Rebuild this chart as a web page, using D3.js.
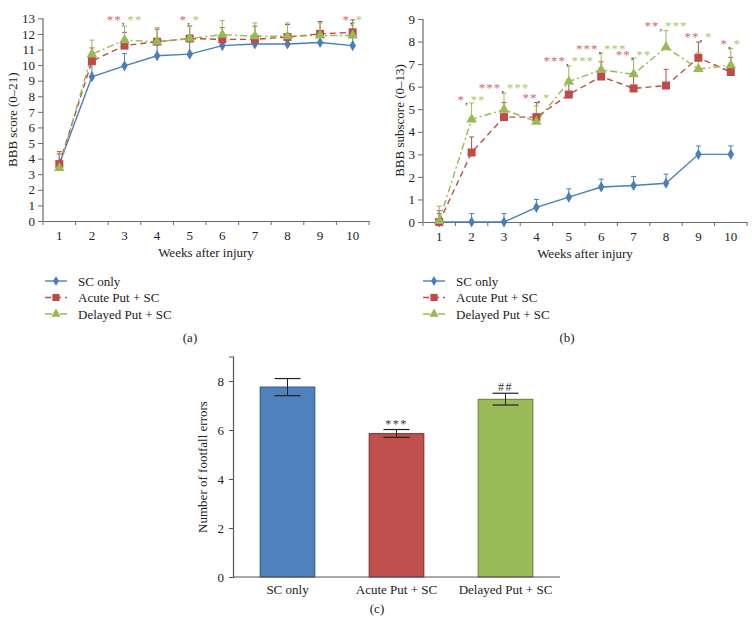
<!DOCTYPE html>
<html><head><meta charset="utf-8">
<script src="https://cdn.jsdelivr.net/npm/d3@7"></script>
<style>
body{margin:0;background:#fff;}
svg text{font-family:"Liberation Serif","Times New Roman",serif;}
</style></head>
<body><svg id="c" width="756" height="631"></svg>
<script>
// ---------- DATA ----------
const weeks = [1,2,3,4,5,6,7,8,9,10];
const seriesNames = ["SC only","Acute Put + SC","Delayed Put + SC"];

// Panel (a) BBB score
const aSC      = [3.65, 9.25, 9.95, 10.6, 10.7, 11.25, 11.35, 11.35, 11.45, 11.25];
const aSCTop   = [4.3, 10.1, 10.75, 11.5, 11.6, 11.9, 12.0, 12.0, 12.1, 11.9];
const aAcute   = [3.65, 10.25, 11.25, 11.5, 11.7, 11.65, 11.65, 11.8, 12.0, 12.1];
const aAcuteTop= [4.45, 11.1, 12.1, 12.3, 12.5, 12.4, 12.5, 12.6, 12.8, 12.9];
const aDelay   = [3.4, 10.7, 11.6, 11.5, 11.7, 11.95, 11.85, 11.85, 11.9, 11.9];
const aDelayTop= [4.3, 11.6, 12.5, 12.4, 12.5, 12.85, 12.7, 12.7, 12.7, 12.7];
const aTicks = [0,1,2,3,4,5,6,7,8,9,10,11,12,13];
const aSigWeek  = [3, 5, 10];
const aSigRed   = ["**", "*", "*"];
const aSigGreen = ["**", "*", "*"];
const aSigY     = [13.05, 13.05, 13.05];

// Panel (b) BBB subscore
const bSC      = [0, 0, 0, 0.65, 1.1, 1.55, 1.62, 1.72, 3.0, 3.0];
const bSCTop   = [0.37, 0.37, 0.37, 1.0, 1.47, 1.9, 2.02, 2.12, 3.37, 3.37];
const bAcute   = [0, 3.08, 4.65, 4.65, 5.65, 6.45, 5.92, 6.05, 7.28, 6.65];
const bAcuteTop= [0.5, 3.77, 5.3, 5.3, 6.3, 7.1, 6.6, 6.77, 7.98, 7.3];
const bDelay   = [0.05, 4.55, 4.98, 4.45, 6.22, 6.75, 6.55, 7.75, 6.78, 6.95];
const bDelayTop= [0.7, 5.28, 5.72, 5.15, 6.92, 7.48, 7.27, 8.48, 7.5, 7.7];
const bTicks = [0,1,2,3,4,5,6,7,8,9];
const bSigWeek  = [2, 3, 4, 5, 6, 7, 8, 9, 10];
const bSigRed   = ["*", "***", "**", "***", "***", "**", "**", "**", "*"];
const bSigGreen = ["**", "***", "*", "***", "***", "**", "***", "*", "*"];
const bSigY     = [5.5, 6.05, 5.6, 7.25, 7.8, 7.5, 8.8, 8.3, 8.0];

// Panel (c) footfall errors
const cCats  = ["SC only","Acute Put + SC","Delayed Put + SC"];
const cMean  = [7.75, 5.85, 7.25];
const cLow   = [7.4, 5.7, 7.02];
const cHigh  = [8.1, 6.02, 7.5];
const cSig   = ["", "***", "##"];
const cSigY  = [0, 6.3, 7.8];
const cTicks = [0,2,4,6,8];

// ---------- STYLE ----------
const lineCol = ["#4a7ebb", "#be4b48", "#98b954"];
const sigRedCol = "#d26a6d", sigGreenCol = "#a9c86b";
const dash = [null, "6,4", "7,3,2,3"];
const axisCol = "#6b6b6b";

const svg = d3.select("#c");

function linePanel(opt){
  const x = d3.scaleBand().domain(weeks).range(opt.xr);
  const y = d3.scaleLinear().domain(opt.yd).range(opt.yr);
  const g = svg.append("g");
  const cx = d => x(d) + x.bandwidth()/2;

  const ya = g.append("g").attr("transform",`translate(${opt.xr[0]},0)`)
    .call(d3.axisLeft(y).tickValues(opt.ticks).tickSize(5).tickPadding(3).tickFormat(d3.format("d")));
  const xa = g.append("g").attr("transform",`translate(0,${opt.yr[0]})`)
    .call(d3.axisBottom(x).tickSize(0).tickPadding(10));
  const bounds = weeks.map(w => x(w)).concat([opt.xr[1]]);
  xa.selectAll("line.bt").data(bounds).enter().append("line").attr("class","bt")
    .attr("x1",d=>d).attr("x2",d=>d).attr("y1",0).attr("y2",4);
  [ya,xa].forEach(a=>{
    a.selectAll("path").attr("stroke",axisCol).attr("stroke-width",1.2);
    a.selectAll("line").attr("stroke",axisCol);
    a.selectAll("text").attr("font-size",13).attr("fill","#222")
      .style("font-family","'Liberation Serif',serif");
  });
  ya.select("path").attr("d",`M0,${opt.yr[0]}V${opt.yr[1]}`);

  g.append("text").attr("x",(opt.xr[0]+opt.xr[1])/2).attr("y",opt.yr[0]+36)
    .attr("text-anchor","middle").attr("font-size",13).attr("fill","#222").text("Weeks after injury");
  g.append("text").attr("transform",`translate(${opt.ylx},${(opt.yr[0]+opt.yr[1])/2}) rotate(-90)`)
    .attr("text-anchor","middle").attr("font-size",13).attr("fill","#222").text(opt.ylabel);

  const data = [opt.sc, opt.acute, opt.delay];
  const tops = [opt.scTop, opt.acuteTop, opt.delayTop];
  [0,1,2].forEach(i=>{
    const eg = g.append("g").attr("stroke",lineCol[i]).attr("stroke-width",1);
    weeks.forEach((w,k)=>{
      eg.append("line").attr("x1",cx(w)).attr("x2",cx(w)).attr("y1",y(data[i][k])).attr("y2",y(tops[i][k]));
      eg.append("line").attr("x1",cx(w)-2.5).attr("x2",cx(w)+2.5).attr("y1",y(tops[i][k])).attr("y2",y(tops[i][k]));
    });
  });
  [0,1,2].forEach(i=>{
    const ln = d3.line().x((d,k)=>cx(weeks[k])).y(d=>y(d));
    g.append("path").datum(data[i]).attr("d",ln).attr("fill","none")
      .attr("stroke",lineCol[i]).attr("stroke-width",1.4)
      .attr("stroke-dasharray",dash[i]);
  });
  const syms = [d3.symbolDiamond, d3.symbolSquare, d3.symbolTriangle];
  const sizes = [36, 64, 48];
  [0,1,2].forEach(i=>{
    g.selectAll(null).data(data[i]).enter().append("path")
      .attr("d", d3.symbol().type(syms[i]).size(sizes[i]))
      .attr("transform",(d,k)=>`translate(${cx(weeks[k])},${y(d)})`)
      .attr("fill",lineCol[i]);
  });
  // significance
  opt.sigWeek.forEach((w,k)=>{
    const t = g.append("text").attr("x",cx(w)).attr("y",y(opt.sigY[k])+6.5)
      .attr("text-anchor","middle").attr("font-size",13).attr("letter-spacing","1px");
    t.append("tspan").attr("fill",sigRedCol).text(opt.sigRed[k]);
    t.append("tspan").attr("fill","#222").attr("font-size",11).attr("letter-spacing","0px").text(", ");
    t.append("tspan").attr("fill",sigGreenCol).text(opt.sigGreen[k]);
  });

  const lg = g.append("g");
  [0,1,2].forEach(i=>{
    const yy = opt.legY + i*16.5;
    lg.append("line").attr("x1",opt.legX).attr("x2",opt.legX+22).attr("y1",yy).attr("y2",yy)
      .attr("stroke",lineCol[i]).attr("stroke-width",1.4).attr("stroke-dasharray",dash[i]);
    lg.append("path").attr("d",d3.symbol().type(syms[i]).size(sizes[i]*0.8))
      .attr("transform",`translate(${opt.legX+11},${yy})`).attr("fill",lineCol[i]);
    lg.append("text").attr("x",opt.legX+33).attr("y",yy+4.5).attr("font-size",13)
      .attr("fill","#222").text(seriesNames[i]);
  });
  g.append("text").attr("x",opt.capX).attr("y",342).attr("text-anchor","middle")
    .attr("font-size",13).attr("fill","#222").text(opt.cap);
}

linePanel({xr:[43,369], yr:[221,18.3], yd:[0,13], ticks:aTicks, ylabel:"BBB score (0–21)", ylx:17,
  sc:aSC, scTop:aSCTop, acute:aAcute, acuteTop:aAcuteTop, delay:aDelay, delayTop:aDelayTop,
  sigWeek:aSigWeek, sigRed:aSigRed, sigGreen:aSigGreen, sigY:aSigY,
  legX:45, legY:281, capX:190, cap:"(a)"});
linePanel({xr:[423,747], yr:[222,19], yd:[0,9], ticks:bTicks, ylabel:"BBB subscore (0–13)", ylx:404,
  sc:bSC, scTop:bSCTop, acute:bAcute, acuteTop:bAcuteTop, delay:bDelay, delayTop:bDelayTop,
  sigWeek:bSigWeek, sigRed:bSigRed, sigGreen:bSigGreen, sigY:bSigY,
  legX:423, legY:281, capX:567, cap:"(b)"});

// ---------- Panel (c) ----------
(function(){
  const barFill = ["#4f81bd","#c0504d","#9bbb59"];
  const barStroke = ["#385d8a","#8c3836","#71893f"];
  const x = d3.scaleBand().domain(cCats).range([233,560]).paddingInner(0.5).paddingOuter(0.25);
  const y = d3.scaleLinear().domain([0,9]).range([577,356.5]);
  const g = svg.append("g");
  g.selectAll("rect").data(cMean).enter().append("rect")
    .attr("x",(d,i)=>x(cCats[i])).attr("width",x.bandwidth())
    .attr("y",d=>y(d)).attr("height",d=>y(0)-y(d))
    .attr("fill",(d,i)=>barFill[i]).attr("stroke",(d,i)=>barStroke[i]).attr("stroke-width",1.2);
  cCats.forEach((c,i)=>{
    const cx = x(c)+x.bandwidth()/2;
    g.append("line").attr("x1",cx).attr("x2",cx).attr("y1",y(cLow[i])).attr("y2",y(cHigh[i])).attr("stroke","#222");
    [cLow[i],cHigh[i]].forEach(v=>g.append("line").attr("x1",cx-13).attr("x2",cx+13)
      .attr("y1",y(v)).attr("y2",y(v)).attr("stroke","#222").attr("stroke-width",1.2));
    if(cSig[i]) g.append("text").attr("x",cx).attr("y",y(cSigY[i])+5).attr("text-anchor","middle")
      .attr("font-size",12).attr("letter-spacing","1.5px").attr("fill","#333").text(cSig[i]);
  });
  const ya = g.append("g").attr("transform","translate(233,0)")
    .call(d3.axisLeft(y).tickValues(cTicks).tickSize(4).tickPadding(5));
  const xa = g.append("g").attr("transform","translate(0,577)")
    .call(d3.axisBottom(x).tickSize(0).tickPadding(8));
  [ya,xa].forEach(a=>{
    a.selectAll("path").attr("stroke","#555").attr("stroke-width",1.2);
    a.selectAll("line").attr("stroke","#555");
    a.selectAll("text").attr("font-size",13).attr("fill","#222").style("font-family","'Liberation Serif',serif");
  });
  xa.select("path").attr("d","M233,0H560");
  g.append("text").attr("transform","translate(207,467) rotate(-90)").attr("text-anchor","middle")
    .attr("font-size",13).attr("fill","#222").text("Number of footfall errors");
  g.append("text").attr("x",377).attr("y",613).attr("text-anchor","middle")
    .attr("font-size",13).attr("fill","#222").text("(c)");
})();
</script></body></html>
